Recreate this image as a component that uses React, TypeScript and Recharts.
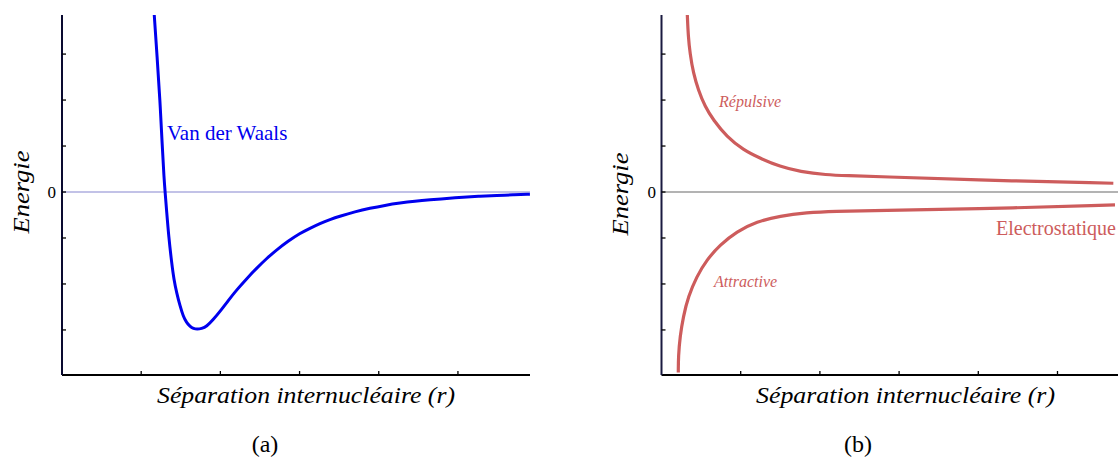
import React from 'react';
import { LineChart, Line, XAxis, YAxis, ReferenceLine } from 'recharts';

// (a) Van der Waals potential
const vdwX = [1.165, 1.201, 1.237, 1.266, 1.288, 1.304, 1.321, 1.348, 1.385, 1.414, 1.448, 1.490, 1.532, 1.572, 1.616, 1.660, 1.708, 1.761, 1.827, 1.907, 1.995, 2.096, 2.206, 2.330, 2.458, 2.582, 2.711, 2.854, 3.005, 3.131, 3.258, 3.384, 3.510, 3.699, 3.889, 4.078, 4.268, 4.457, 4.646, 4.861, 5.063, 5.278, 5.492, 5.694, 5.909];
const vdwY = [3.85, 2.937, 2.002, 1.002, 0.307, -0.041, -0.411, -0.976, -1.541, -1.911, -2.193, -2.476, -2.709, -2.835, -2.926, -2.972, -2.987, -2.972, -2.926, -2.78, -2.6, -2.367, -2.128, -1.889, -1.657, -1.448, -1.259, -1.07, -0.898, -0.789, -0.683, -0.598, -0.526, -0.43, -0.352, -0.289, -0.239, -0.2, -0.17, -0.139, -0.115, -0.091, -0.074, -0.061, -0.048];

// (b) Electrostatic: repulsive and attractive branches
const repX = [0.326, 0.338, 0.360, 0.402, 0.465, 0.549, 0.654, 0.823, 1.033, 1.244, 1.496, 1.749, 2.086, 2.338, 2.759, 3.895, 5.705];
const repY = [3.85, 3.378, 3.017, 2.583, 2.22, 1.857, 1.567, 1.204, 0.915, 0.735, 0.552, 0.443, 0.372, 0.357, 0.335, 0.263, 0.191];
const attX = [0.212, 0.213, 0.234, 0.275, 0.338, 0.444, 0.571, 0.739, 0.949, 1.202, 1.496, 1.833, 2.169, 2.759, 3.895, 5.726];
const attY = [-3.926, -3.578, -3.143, -2.709, -2.274, -1.839, -1.476, -1.15, -0.861, -0.643, -0.52, -0.448, -0.417, -0.404, -0.374, -0.28];

const xTicks = [1, 2, 3, 4, 5];
const yTicks = [-3, -2, -1, 0, 1, 2, 3];
const yDomain = [-3.98, 3.85];

const zip = (xs: number[], ys: number[]) => xs.map((x, i) => ({ x, y: ys[i] }));
const vdwData = zip(vdwX, vdwY);
const repData = zip(repX, repY);
const attData = zip(attX, attY);

const SERIF = "'Liberation Serif', 'Times New Roman', serif";
const RED = '#cd5c5c';
const blank = () => '';

export default function App() {
  return (
    <div style={{ position: 'absolute', left: 0, top: 0, width: 1118, height: 459, background: '#fff', overflow: 'hidden' }}>
      <div style={{ position: 'absolute', left: 0, top: 0 }}>
        <LineChart width={560} height={459} margin={{ top: 15, right: 30, bottom: 84, left: 62 }}>
          <XAxis dataKey="x" type="number" domain={[0, 5.91]} ticks={xTicks} mirror height={1} tickSize={4} tickFormatter={blank}
            axisLine={{ stroke: '#000', strokeWidth: 2 }} tickLine={{ stroke: '#000', strokeWidth: 1.3 }} allowDataOverflow />
          <YAxis type="number" domain={yDomain} ticks={yTicks} mirror width={1} tickSize={4} tickFormatter={blank}
            axisLine={{ stroke: '#0a0a30', strokeWidth: 2 }} tickLine={{ stroke: '#000', strokeWidth: 1.3 }} allowDataOverflow />
          <ReferenceLine y={0} stroke="#8585d0" strokeWidth={1.2} />
          <Line data={vdwData} dataKey="y" type="basis" stroke="#0000ee" strokeWidth={3} dot={false} isAnimationActive={false} />
        </LineChart>
      </div>
      <div style={{ position: 'absolute', left: 560, top: 0 }}>
        <LineChart width={558} height={459} margin={{ top: 15, right: 0, bottom: 84, left: 101.5 }}>
          <XAxis dataKey="x" type="number" domain={[0, 5.764]} ticks={xTicks} mirror height={1} tickSize={4} tickFormatter={blank}
            axisLine={{ stroke: '#000', strokeWidth: 2 }} tickLine={{ stroke: '#000', strokeWidth: 1.3 }} allowDataOverflow />
          <YAxis type="number" domain={yDomain} ticks={yTicks} mirror width={1} tickSize={4} tickFormatter={blank}
            axisLine={{ stroke: '#1a1a40', strokeWidth: 2 }} tickLine={{ stroke: '#000', strokeWidth: 1.3 }} allowDataOverflow />
          <ReferenceLine y={0} stroke="#9a9a9a" strokeWidth={1.4} />
          <Line data={repData} dataKey="y" type="basis" stroke={RED} strokeWidth={3.2} dot={false} isAnimationActive={false} />
          <Line data={attData} dataKey="y" type="basis" stroke={RED} strokeWidth={3.2} dot={false} isAnimationActive={false} />
        </LineChart>
      </div>
      <svg width={1118} height={459} style={{ position: 'absolute', left: 0, top: 0, pointerEvents: 'none' }}>
        <g fontFamily={SERIF}>
          {/* panel a */}
          <text x={56} y={198} fontSize={17} textAnchor="end" fill="#000">0</text>
          <text transform="translate(28.5,192) rotate(-90)" fontSize={23} fontStyle="italic" textAnchor="middle" fill="#000" textLength={83} lengthAdjust="spacingAndGlyphs">Energie</text>
          <text x={167} y={140} fontSize={21} fill="#0000ee">Van der Waals</text>
          <text x={157} y={403} fontSize={23} fontStyle="italic" fill="#000" textLength={298} lengthAdjust="spacingAndGlyphs">Séparation internucléaire (r)</text>
          <text x={265} y={452} fontSize={24} textAnchor="middle" fill="#000">(a)</text>
          {/* panel b */}
          <text x={656} y={198} fontSize={17} textAnchor="end" fill="#000">0</text>
          <text transform="translate(628,194) rotate(-90)" fontSize={23} fontStyle="italic" textAnchor="middle" fill="#000" textLength={83} lengthAdjust="spacingAndGlyphs">Energie</text>
          <text x={719} y={106.5} fontSize={16} fontStyle="italic" fill={RED}>Répulsive</text>
          <text x={714} y={287} fontSize={16} fontStyle="italic" fill={RED}>Attractive</text>
          <text x={996} y={235} fontSize={20} fill={RED}>Electrostatique</text>
          <text x={756} y={403} fontSize={23} fontStyle="italic" fill="#000" textLength={299} lengthAdjust="spacingAndGlyphs">Séparation internucléaire (r)</text>
          <text x={858} y={452} fontSize={24} textAnchor="middle" fill="#000">(b)</text>
        </g>
      </svg>
    </div>
  );
}
